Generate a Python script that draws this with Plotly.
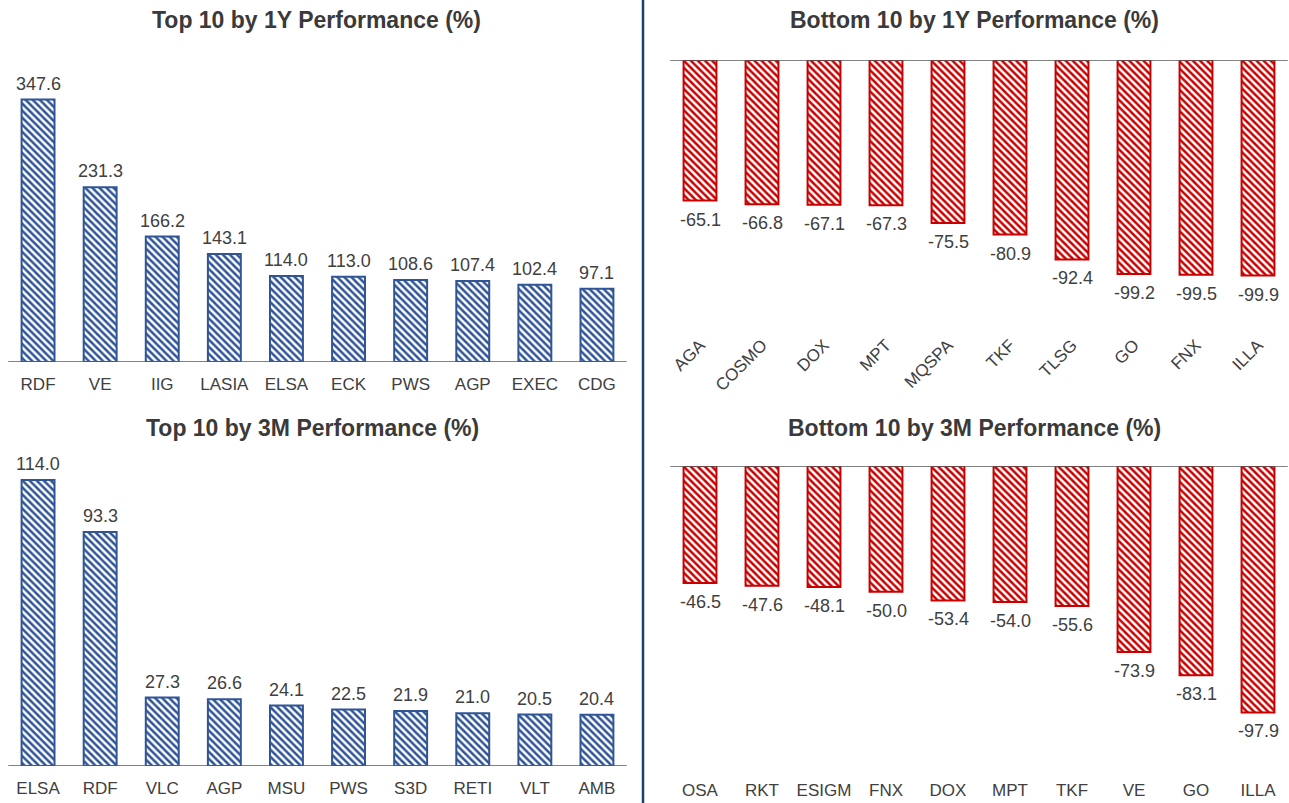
import plotly.graph_objects as go

# Top / bottom performers, % change
top_1y_names = ["RDF", "VE", "IIG", "LASIA", "ELSA", "ECK", "PWS", "AGP", "EXEC", "CDG"]
top_1y_vals = [347.6, 231.3, 166.2, 143.1, 114.0, 113.0, 108.6, 107.4, 102.4, 97.1]

bot_1y_names = ["AGA", "COSMO", "DOX", "MPT", "MQSPA", "TKF", "TLSG", "GO", "FNX", "ILLA"]
bot_1y_vals = [-65.1, -66.8, -67.1, -67.3, -75.5, -80.9, -92.4, -99.2, -99.5, -99.9]

top_3m_names = ["ELSA", "RDF", "VLC", "AGP", "MSU", "PWS", "S3D", "RETI", "VLT", "AMB"]
top_3m_vals = [114.0, 93.3, 27.3, 26.6, 24.1, 22.5, 21.9, 21.0, 20.5, 20.4]

bot_3m_names = ["OSA", "RKT", "ESIGM", "FNX", "DOX", "MPT", "TKF", "VE", "GO", "ILLA"]
bot_3m_vals = [-46.5, -47.6, -48.1, -50.0, -53.4, -54.0, -55.6, -73.9, -83.1, -97.9]

titles = ["Top 10 by 1Y Performance (%)", "Bottom 10 by 1Y Performance (%)",
          "Top 10 by 3M Performance (%)", "Bottom 10 by 3M Performance (%)"]

W, H = 1289, 803
BLUE = "#2F5597"
RED = "#C80000"
TXT = "#404040"
FONT = "Arial, Liberation Sans, Helvetica, sans-serif"


def px_x(a, b):
    return [a / W, b / W]


def px_y(top, bottom):
    return [1 - bottom / H, 1 - top / H]


panels = [
    # names, values, color, x-domain px, y-domain px, y-range, tickangle
    (top_1y_names, top_1y_vals, BLUE, (7, 628), (60, 362), [0, 400], 0),
    (bot_1y_names, bot_1y_vals, RED, (669, 1289), (60, 319), [-120, 0], -45),
    (top_3m_names, top_3m_vals, BLUE, (7, 628), (465, 766), [0, 120], 0),
    (bot_3m_names, bot_3m_vals, RED, (669, 1289), (466, 768), [-120, 0], 0),
]
title_centers = [316, 974, 312, 974]
title_rows = [20, 20, 428, 428]

fig = go.Figure()
shapes = []
annotations = []

for i, (names, vals, col, xd, yd, yr, ang) in enumerate(panels):
    n = "" if i == 0 else str(i + 1)
    fig.add_trace(go.Bar(
        x=names, y=vals, xaxis="x" + n, yaxis="y" + n,
        width=0.53,
        marker=dict(color="white",
                    line=dict(color=col, width=2),
                    pattern=dict(shape="\\", fgcolor=col, bgcolor="white",
                                 fgopacity=1, size=5, solidity=0.5)),
        showlegend=False, hoverinfo="x+y",
    ))
    # value labels just outside the end of each bar
    for name, v in zip(names, vals):
        annotations.append(dict(
            x=name, y=v, xref="x" + n, yref="y" + n, text=f"{v:.1f}",
            showarrow=False, xanchor="center",
            yanchor="bottom" if v >= 0 else "top",
            yshift=4 if v >= 0 else -7,
            font=dict(family=FONT, size=18, color=TXT),
        ))
    fig.layout["xaxis" + n] = dict(
        domain=px_x(*xd), anchor="y" + n, type="category",
        showgrid=False, zeroline=False, showline=False, ticks="",
        tickangle=ang, ticklen=0, ticklabelstandoff=10 if ang == 0 else 12,
        tickfont=dict(family=FONT, size=17, color=TXT),
        fixedrange=True,
    )
    fig.layout["yaxis" + n] = dict(
        domain=px_y(*yd), anchor="x" + n, range=yr,
        showgrid=False, zeroline=False, showline=False,
        showticklabels=False, ticks="", fixedrange=True,
    )
    # baseline at zero
    shapes.append(dict(type="line", xref=f"x{n} domain", yref="y" + n,
                       x0=0.002, x1=0.998, y0=0, y1=0,
                       line=dict(color="#595959", width=1.3)))
    # panel title
    annotations.append(dict(text=f"<b>{titles[i]}</b>",
                            x=title_centers[i] / W, y=1 - title_rows[i] / H,
                            xref="paper", yref="paper", showarrow=False,
                            xanchor="center", yanchor="middle",
                            font=dict(family=FONT, size=23, color="#3A3A3A")))

# divider between left and right columns
shapes.append(dict(type="line", xref="paper", yref="paper",
                   x0=643 / W, x1=643 / W, y0=0, y1=1,
                   line=dict(color="#1F3F73", width=2.5)))

fig.update_layout(
    width=W, height=H, margin=dict(l=0, r=0, t=0, b=0),
    paper_bgcolor="white", plot_bgcolor="white",
    bargap=0.47, shapes=shapes, annotations=annotations,
    font=dict(family=FONT, color=TXT),
)

fig.write_html("out.html", config={"displayModeBar": False})
